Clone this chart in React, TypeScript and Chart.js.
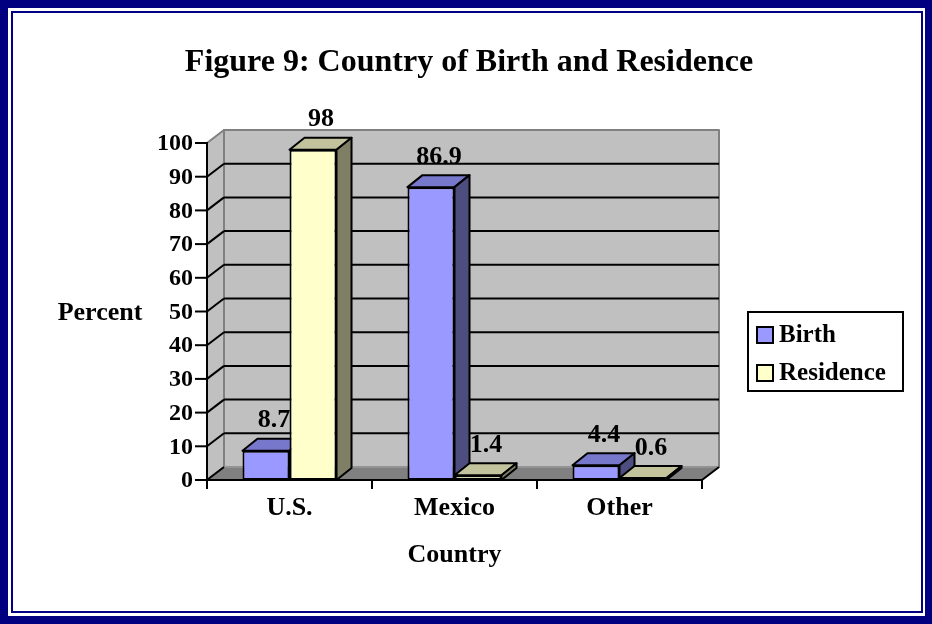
import { useEffect, useRef } from "react";
import { Chart, registerables } from "chart.js";

Chart.register(...registerables);

const TITLE = "Figure 9: Country of Birth and Residence";
const categories = ["U.S.", "Mexico", "Other"];
const seriesNames = ["Birth", "Residence"];
const birth = [8.7, 86.9, 4.4];
const residence = [98, 1.4, 0.6];
const yTicks = [0, 10, 20, 30, 40, 50, 60, 70, 80, 90, 100];
const yTitle = "Percent";
const xTitle = "Country";

const frontColors = ["#9999FF", "#FFFFCC"];
const topColors = ["#7777CC", "#C2C29C"];
const sideColors = ["#4D4D80", "#7F7F66"];

const FONT = "'Liberation Serif', 'Times New Roman', serif";
const WALL = { dx: 17, dy: -13 };
const BAR = { dx: 15, dy: -12 };

function poly(ctx: CanvasRenderingContext2D, pts: number[][], fill: string | null, stroke: string | null, lw = 2) {
  ctx.beginPath();
  ctx.moveTo(pts[0][0], pts[0][1]);
  for (let i = 1; i < pts.length; i++) ctx.lineTo(pts[i][0], pts[i][1]);
  ctx.closePath();
  if (fill) {
    ctx.fillStyle = fill;
    ctx.fill();
  }
  if (stroke) {
    ctx.strokeStyle = stroke;
    ctx.lineWidth = lw;
    ctx.stroke();
  }
}

function line(ctx: CanvasRenderingContext2D, x1: number, y1: number, x2: number, y2: number, color: string, lw = 2) {
  ctx.beginPath();
  ctx.moveTo(x1, y1);
  ctx.lineTo(x2, y2);
  ctx.strokeStyle = color;
  ctx.lineWidth = lw;
  ctx.stroke();
}

const threeD = {
  id: "threeD",
  beforeDraw(chart: any) {
    const ctx: CanvasRenderingContext2D = chart.ctx;
    const W = chart.width;
    const H = chart.height;
    ctx.save();
    ctx.fillStyle = "#000080";
    ctx.fillRect(0, 0, W, H);
    ctx.fillStyle = "#ffffff";
    ctx.fillRect(8, 8, W - 15, H - 16);
    ctx.strokeStyle = "#000080";
    ctx.lineWidth = 2;
    ctx.strokeRect(12, 12, W - 22, H - 24);
    ctx.fillStyle = "#000";
    ctx.font = `bold 32px ${FONT}`;
    ctx.textAlign = "center";
    ctx.textBaseline = "middle";
    ctx.fillText(TITLE, 469, 63);
    ctx.restore();
  },
  beforeDatasetsDraw(chart: any) {
    const ctx: CanvasRenderingContext2D = chart.ctx;
    const xs = chart.scales.x;
    const ys = chart.scales.y;
    const L = xs.left;
    const R = xs.right;
    const T = ys.getPixelForValue(yTicks[yTicks.length - 1]);
    const B = ys.getPixelForValue(yTicks[0]);
    const { dx, dy } = WALL;
    ctx.save();
    ctx.lineJoin = "round";
    // side wall
    poly(ctx, [[L, B], [L, T], [L + dx, T + dy], [L + dx, B + dy]], "#C0C0C0", "#808080", 2);
    // back wall
    poly(ctx, [[L + dx, T + dy], [R + dx, T + dy], [R + dx, B + dy], [L + dx, B + dy]], "#C0C0C0", "#808080", 2);
    // floor
    poly(ctx, [[L, B], [L + dx, B + dy], [R + dx, B + dy], [R, B]], "#808080", "#999999", 1.5);
    line(ctx, L, B, L + dx, B + dy, "#000", 2);
    line(ctx, R, B, R + dx, B + dy, "#000", 2);
    // gridlines on back wall & diagonals on side wall
    for (let i = 1; i < yTicks.length - 1; i++) {
      const y = ys.getPixelForValue(yTicks[i]);
      line(ctx, L + dx, y + dy, R + dx, y + dy, "#000", 2);
      line(ctx, L, y, L + dx, y + dy, "#000", 2);
    }
    // y axis
    line(ctx, L, T - 1, L, B + 1, "#000", 2);
    for (const v of yTicks) {
      const y = ys.getPixelForValue(v);
      line(ctx, L - 12, y, L, y, "#000", 2);
    }
    // x axis
    line(ctx, L - 1, B, R + 1, B, "#000", 2);
    const bounds = [L];
    for (let j = 0; j < categories.length - 1; j++) {
      bounds.push((xs.getPixelForValue(j) + xs.getPixelForValue(j + 1)) / 2);
    }
    bounds.push(R);
    for (const bx of bounds) line(ctx, bx, B - 1, bx, B + 9, "#000", 2);

    // value labels (behind bars)
    ctx.fillStyle = "#000";
    ctx.font = `bold 26px ${FONT}`;
    ctx.textAlign = "center";
    ctx.textBaseline = "middle";
    chart.data.datasets.forEach((ds: any, i: number) => {
      const meta = chart.getDatasetMeta(i);
      meta.data.forEach((bar: any, j: number) => {
        ctx.fillText(String(ds.data[j]), bar.x + 8, bar.y + BAR.dy - 18);
      });
    });

    // bar top & side faces
    chart.data.datasets.forEach((_ds: any, i: number) => {
      const meta = chart.getDatasetMeta(i);
      meta.data.forEach((bar: any) => {
        const w = bar.width;
        const x0 = bar.x - w / 2;
        const x1 = bar.x + w / 2;
        const y = bar.y;
        const base = bar.base;
        poly(ctx, [[x0, y], [x0 + BAR.dx, y + BAR.dy], [x1 + BAR.dx, y + BAR.dy], [x1, y]], topColors[i], "#000", 2);
        poly(ctx, [[x1, y], [x1 + BAR.dx, y + BAR.dy], [x1 + BAR.dx, base + BAR.dy], [x1, base]], sideColors[i], "#000", 2);
      });
    });
    ctx.restore();
  },
  afterDraw(chart: any) {
    const ctx: CanvasRenderingContext2D = chart.ctx;
    const xs = chart.scales.x;
    const ys = chart.scales.y;
    const L = xs.left;
    ctx.save();
    ctx.fillStyle = "#000";
    // y tick labels
    ctx.font = `bold 24px ${FONT}`;
    ctx.textAlign = "right";
    ctx.textBaseline = "middle";
    for (const v of yTicks) ctx.fillText(String(v), L - 14, ys.getPixelForValue(v) + 1);
    // category labels
    ctx.font = `bold 26px ${FONT}`;
    ctx.textAlign = "center";
    categories.forEach((c, j) => ctx.fillText(c, xs.getPixelForValue(j), 508));
    // axis titles
    ctx.fillText(xTitle, (xs.left + xs.right) / 2, 555);
    ctx.fillText(yTitle, 100, 313);
    // legend
    const lx = 748, ly = 312, lw = 155, lh = 79;
    ctx.strokeStyle = "#000";
    ctx.lineWidth = 2;
    ctx.strokeRect(lx, ly, lw, lh);
    ctx.font = `bold 25px ${FONT}`;
    ctx.textAlign = "left";
    chart.data.datasets.forEach((ds: any, i: number) => {
      const cy = 335 + i * 38;
      ctx.fillStyle = ds.backgroundColor;
      ctx.fillRect(757, cy - 8, 16, 16);
      ctx.strokeRect(757, cy - 8, 16, 16);
      ctx.fillStyle = "#000";
      ctx.fillText(ds.label, 779, cy + 1);
    });
    ctx.restore();
  },
};

export default function App() {
  const ref = useRef<HTMLCanvasElement | null>(null);
  useEffect(() => {
    if (!ref.current) return;
    const chart = new Chart(ref.current, {
      type: "bar",
      data: {
        labels: categories,
        datasets: [
          {
            label: seriesNames[0],
            data: birth,
            backgroundColor: frontColors[0],
            borderColor: "#000",
            borderWidth: 2,
            borderSkipped: false,
          },
          {
            label: seriesNames[1],
            data: residence,
            backgroundColor: frontColors[1],
            borderColor: "#000",
            borderWidth: 2,
            borderSkipped: false,
          },
        ],
      },
      options: {
        responsive: false,
        animation: false,
        devicePixelRatio: 1,
        events: [],
        layout: { padding: { left: 207, right: 230, top: 143, bottom: 144 } },
        datasets: { bar: { categoryPercentage: 0.57, barPercentage: 1 } },
        scales: {
          x: { display: false },
          y: { display: false, min: 0, max: 100 },
        },
        plugins: {
          legend: { display: false },
          title: { display: false },
          tooltip: { enabled: false },
        },
      },
      plugins: [threeD],
    });
    return () => chart.destroy();
  }, []);
  return (
    <div style={{ position: "fixed", left: 0, top: 0, width: 932, height: 624, background: "#fff" }}>
      <canvas ref={ref} width={932} height={624} style={{ width: 932, height: 624, display: "block" }} />
    </div>
  );
}
